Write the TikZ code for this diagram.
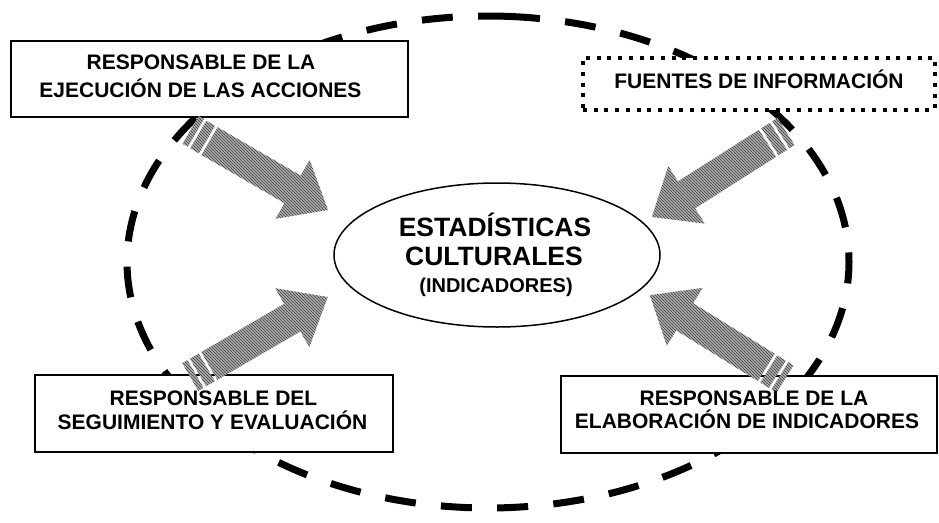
\documentclass[tikz,border=0pt]{standalone}
\usepackage{fontspec}
\setmainfont{Liberation Sans}
\usetikzlibrary{patterns,shapes.geometric}
\begin{document}
\begin{tikzpicture}[x=1pt,y=-1pt,
  bigring/.style={line width=7pt, dash pattern=on 31pt off 25.3pt, dash phase=0pt},
  plainbox/.style={draw, line width=2pt, fill=white, rectangle, inner sep=0pt},
  dotbox/.style={draw, line width=4pt, dash pattern=on 4pt off 6.7pt, fill=white, rectangle, inner sep=0pt},
  corest/.style={draw, ellipse, line width=1.5pt, fill=white, inner sep=0pt},
  boxtext/.style={font=\bfseries\fontsize{21}{24}\selectfont, anchor=base, inner sep=0pt},
  bigtext/.style={font=\bfseries\fontsize{26.5}{30}\selectfont, anchor=base, inner sep=0pt},
  smalltext/.style={font=\bfseries\fontsize{20}{24}\selectfont, anchor=base, inner sep=0pt},
  arrowfill/.style={preaction={fill=black!32}, pattern=north west lines, pattern color=black!75},
  stripearrow/.pic={
    \fill[arrowfill] (0,-16) rectangle (6,16);
    \fill[arrowfill] (9,-16) rectangle (19,16);
    \fill[arrowfill] (22,-16) -- (118,-16) -- (118,-34) -- (159,0) -- (118,34) -- (118,16) -- (22,16) -- cycle;
  }
]
\useasboundingbox (0,0) rectangle (939,522);
\fill[white] (0,0) rectangle (939,522);

% large dashed ring (two halves meeting at the top, ends hidden under the lower-left box)
\draw[bigring] plot[domain=273.34:500, samples=320, variable=\t]
  ({488+361*cos(\t)},{262+246*sin(\t)});
\draw[bigring] plot[domain=0:133.34, samples=200, variable=\t]
  ({488+361*cos(273.34-\t)},{262+246*sin(273.34-\t)});

% boxes
\node[plainbox, minimum width=397.5pt, minimum height=76.8pt] (b1) at (209.25,78.9) {};
\node[dotbox, minimum width=352pt, minimum height=52pt] (b2) at (759,83.5) {};
\node[plainbox, minimum width=358.3pt, minimum height=76.7pt] (b3) at (213.85,413.65) {};
\node[plainbox, minimum width=375.7pt, minimum height=77.3pt] (b4) at (749.15,414.35) {};

% central ellipse
\node[corest, minimum width=326pt, minimum height=144pt] (core) at (497,255) {};

% striped block arrows
\pic (a1) [rotate=-30.2] at (190.6,130) {stripearrow};
\pic (a2) [rotate=-147.5] at (786,131.5) {stripearrow};
\pic (a3) [rotate=30.2] at (190.3,377) {stripearrow};
\pic (a4) [rotate=148.2] at (785,379) {stripearrow};

% texts
\node[boxtext] (t1a) at (201,69.3) {RESPONSABLE DE LA};
\node[boxtext] (t1b) at (200.5,97.3) {EJECUCIÓN DE LAS ACCIONES};
\node[boxtext] (t2) at (759,88.3) {FUENTES DE INFORMACIÓN};
\node[boxtext] (t3a) at (213.5,405) {RESPONSABLE DEL};
\node[boxtext] (t3b) at (212.5,429) {SEGUIMIENTO Y EVALUACIÓN};
\node[boxtext] (t4a) at (754,405) {RESPONSABLE DE LA};
\node[boxtext] (t4b) at (747,428) {ELABORACIÓN DE INDICADORES};
\node[bigtext] (c1) at (495,236) {ESTADÍSTICAS};
\node[bigtext] (c2) at (494,265) {CULTURALES};
\node[smalltext] (c3) at (496,292) {(INDICADORES)};
\end{tikzpicture}
\end{document}
